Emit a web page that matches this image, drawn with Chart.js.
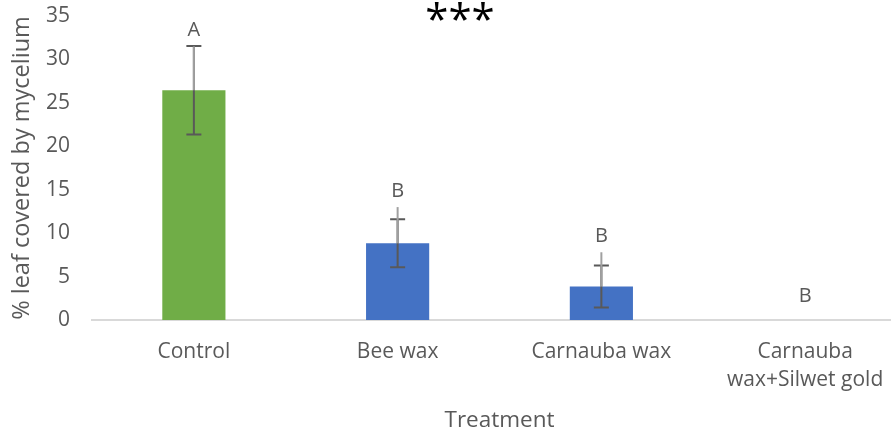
<!DOCTYPE html>
<html><head><meta charset="utf-8">
<script src="https://cdn.jsdelivr.net/npm/chart.js@4/dist/chart.umd.min.js"></script>
<style>html,body{margin:0;padding:0;overflow:hidden;background:#fff}</style>
</head>
<body>
<canvas id="c" width="907" height="434" style="display:block"></canvas>
<script>
const categories = ["Control", "Bee wax", "Carnauba wax", ["Carnauba", "wax+Silwet gold"]];
const means = [26.45, 8.83, 3.85, 0];
const errSE = [5.1, 2.77, 2.42, 0];          // dark capped error bars (±)
const whiskerTop = [31.5, 13.0, 7.8, 0];     // light grey upper whisker end
const letters = ["A", "B", "B", "B"];
const barColors = ["#70AD47", "#4472C4", "#4472C4", "#4472C4"];
const yMin = 0, yMax = 35, yStep = 5;
const yTitle = "% leaf covered by mycelium";
const xTitle = "Treatment";
const sigText = "***";

const FONT = "'Open Sans', sans-serif";
const TXT = "#595959";

const overlay = {
  id: "overlay",
  afterDatasetsDraw(chart) {
    const ctx = chart.ctx, x = chart.scales.x, y = chart.scales.y;
    ctx.save();
    means.forEach((m, i) => {
      const cx = x.getPixelForValue(i);
      const lo = y.getPixelForValue(m - errSE[i]);
      const hi = y.getPixelForValue(m + errSE[i]);
      const cap = 7.5;
      if (errSE[i] > 0) {
        ctx.strokeStyle = "#595959"; ctx.lineWidth = 2;
        ctx.beginPath();
        ctx.moveTo(cx, lo); ctx.lineTo(cx, hi);
        ctx.moveTo(cx - cap, lo); ctx.lineTo(cx + cap, lo);
        ctx.moveTo(cx - cap, hi); ctx.lineTo(cx + cap, hi);
        ctx.stroke();
        ctx.strokeStyle = "#A0A0A0"; ctx.lineWidth = 2;
        ctx.beginPath();
        ctx.moveTo(cx, y.getPixelForValue(m)); ctx.lineTo(cx, y.getPixelForValue(whiskerTop[i]));
        ctx.stroke();
      }
      const top = Math.min(hi, y.getPixelForValue(whiskerTop[i]), y.getPixelForValue(m));
      ctx.fillStyle = TXT; ctx.font = "20px " + FONT;
      ctx.textAlign = "center"; ctx.textBaseline = "middle";
      ctx.fillText(letters[i], cx, top - (errSE[i] > 0 ? 16 : 24));
    });
    // significance marker
    const ca = chart.chartArea;
    ctx.fillStyle = "#000"; ctx.font = "42px " + FONT;
    ctx.textAlign = "center"; ctx.textBaseline = "middle";
    ctx.fillText(sigText, ca.left + (ca.right - ca.left) * 0.4515, 22);
    ctx.restore();
  }
};

new Chart(document.getElementById("c"), {
  type: "bar",
  data: {
    labels: categories,
    datasets: [{ data: means, backgroundColor: barColors, borderWidth: 0,
                 barPercentage: 0.31, categoryPercentage: 1 }]
  },
  options: {
    responsive: false, animation: false,
    layout: { padding: { top: 16, right: 0, bottom: 0, left: 0 } },
    plugins: { legend: { display: false }, tooltip: { enabled: false } },
    scales: {
      x: {
        grid: { display: false, drawTicks: false },
        border: { display: true, color: "#D9D9D9", width: 2 },
        ticks: { color: TXT, font: { family: FONT, size: 21, lineHeight: 1.33 }, padding: 18, maxRotation: 0 },
        title: { display: true, text: xTitle, color: TXT, font: { family: FONT, size: 22.5 }, padding: { top: 0, bottom: 0 } },
        afterFit(s) { s.height = 114; s.paddingLeft = 0; s.paddingRight = 0; }
      },
      y: {
        min: yMin, max: yMax,
        grid: { display: false, drawTicks: false },
        border: { display: false },
        ticks: { stepSize: yStep, color: TXT, font: { family: FONT, size: 21 }, padding: 22 },
        title: { display: true, text: yTitle, color: TXT, font: { family: FONT, size: 23.5 }, padding: { top: 8, bottom: 0 } },
        afterFit(s) { s.width = 92; s.paddingTop = 0; s.paddingBottom = 0; }
      }
    }
  },
  plugins: [overlay]
});
</script>
</body></html>
